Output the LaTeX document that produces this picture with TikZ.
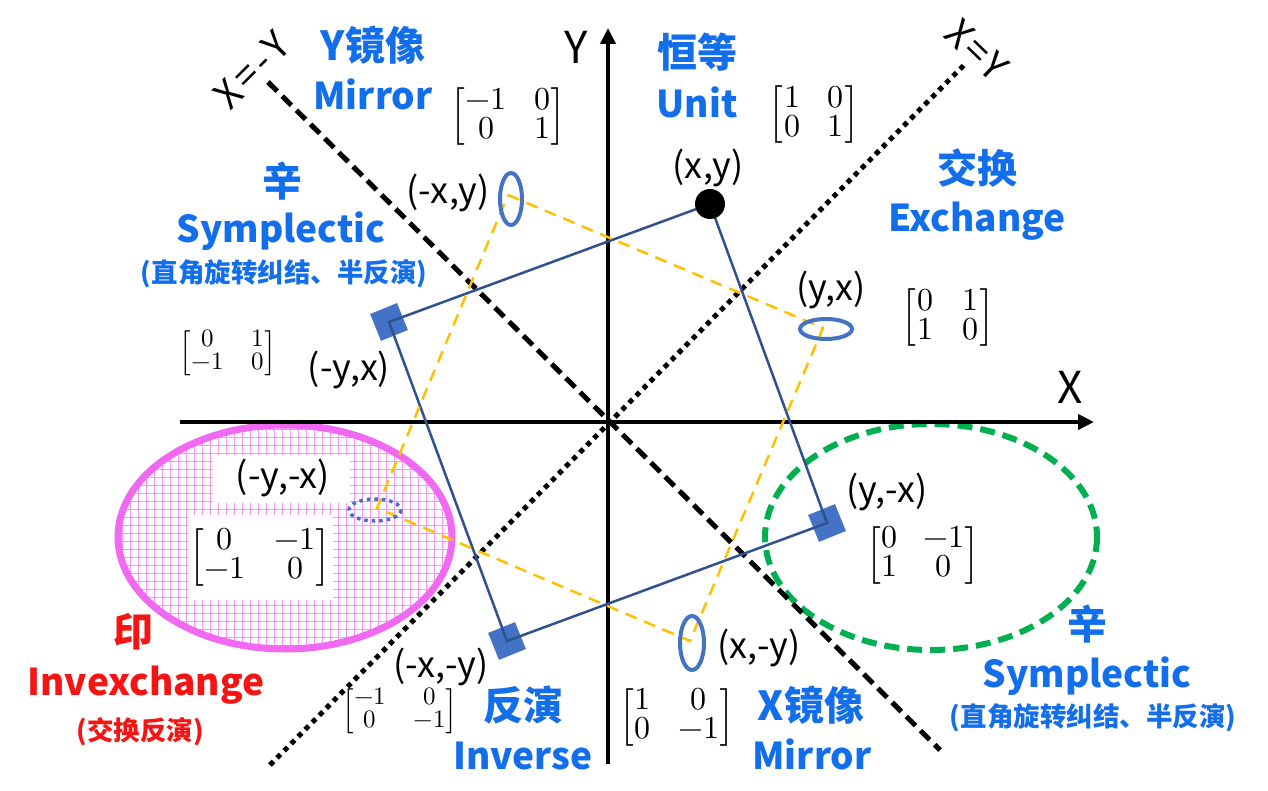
\documentclass[tikz,border=0pt]{standalone}
\usepackage{amsmath}
\usepackage{fontspec}
\usepackage{unicode-math}
\setmathfont{Latin Modern Math}
\newfontfamily\cjk{Noto Sans CJK SC}
\usetikzlibrary{arrows.meta}
\definecolor{lblue}{RGB}{18,110,235}
\definecolor{rectblue}{RGB}{47,82,143}
\definecolor{sqblue}{RGB}{68,114,196}
\definecolor{ygold}{RGB}{255,192,0}
\definecolor{gdash}{RGB}{0,176,80}
\definecolor{mag}{RGB}{240,105,240}
\definecolor{magl}{RGB}{245,150,245}
\definecolor{lred}{RGB}{245,20,20}
\newcommand\mymat[5]{{\setlength\arraycolsep{#1}\renewcommand\arraystretch{0.92}$\begin{bmatrix}#2&#3\\#4&#5\end{bmatrix}$}}
\begin{document}
\begin{tikzpicture}[x=1pt,y=-1pt,
  lab/.style={text=lblue,font=\cjk\bfseries\fontsize{37}{39}\selectfont,inner sep=0pt},
  labc/.style={text=lblue,font=\cjk\bfseries\fontsize{40}{42}\selectfont,inner sep=0pt},
  labsm/.style={text=lblue,font=\cjk\bfseries\fontsize{26.5}{28}\selectfont,inner sep=0pt},
  coord/.style={font=\cjk\fontsize{36}{38}\selectfont,inner sep=0pt},
  mat/.style={font=\fontsize{32}{27}\selectfont,inner sep=0pt},
  mats/.style={font=\fontsize{25}{22}\selectfont,inner sep=0pt},
  axisline/.style={line width=4pt,-{Triangle[length=16pt,width=15pt]}},
  diagdash/.style={line width=5pt,dash pattern=on 13pt off 7pt},
  diagdot/.style={line width=5pt,dash pattern=on 5pt off 5pt},
  rectline/.style={draw=rectblue,line width=2.5pt,line join=miter},
  ydash/.style={draw=ygold,line width=2.5pt,dash pattern=on 12pt off 8pt},
  sq/.style={fill=sqblue,minimum size=29pt,inner sep=0pt,rotate=22},
  ebl/.style={draw=sqblue,line width=4pt},
]
\useasboundingbox (0,0) rectangle (1268,791);
\fill[white] (0,0) rectangle (1268,791);

% magenta hatched ellipse
\begin{scope}
  \clip (285,537) ellipse [x radius=167, y radius=112];
  \foreach \i in {0,...,44} {
    \draw[magl,line width=0.9pt] (114+8*\i,420) -- (114+8*\i,660);
  }
  \foreach \j in {0,...,30} {
    \draw[magl,line width=0.9pt] (110,421+8*\j) -- (460,421+8*\j);
  }
\end{scope}
\node[fill=white,minimum width=137pt,minimum height=48pt,inner sep=0pt] (boxa) at (281,479) {};
\node[fill=white,minimum width=145pt,minimum height=85pt,inner sep=0pt] (boxb) at (260,557) {};
\draw[mag,line width=7pt] (285,537) ellipse [x radius=167, y radius=112];

% green dashed ellipse
\draw[gdash,line width=6pt,dash pattern=on 15pt off 8pt] (931,537) ellipse [x radius=166, y radius=113];

% axes
\coordinate (xs) at (180,422);
\coordinate (xe) at (1094,422);
\coordinate (ys) at (608,764);
\coordinate (ye) at (608,28);
\draw[axisline] (xs) -- (xe);
\draw[axisline] (ys) -- (ye);

% diagonals
\coordinate (d1a) at (268,82);
\coordinate (d1b) at (940,750);
\coordinate (d2a) at (270,765);
\coordinate (d2b) at (966,63);
\draw[diagdash] (d1a) -- (d1b);
\draw[diagdot] (d2a) -- (d2b);

% rotation rectangle
\coordinate (P1) at (710,204);
\coordinate (P2) at (827,523);
\coordinate (P3) at (507,641);
\coordinate (P4) at (389,322);
\node[sq] (s4) at (P4) {};
\node[sq] (s3) at (P3) {};
\node[sq] (s2) at (P2) {};
\draw[rectline] (P1) -- (P2) -- (P3) -- (P4) -- cycle;

% reflection rectangle
\coordinate (Y1) at (508,195);
\coordinate (Y2) at (823,328);
\coordinate (Y3) at (690,641);
\coordinate (Y4) at (377,508);
\draw[ydash] (Y1) -- (Y2) -- (Y3) -- (Y4) -- cycle;

% ellipses on points
\draw[ebl] (511,199) ellipse [x radius=11, y radius=26];
\draw[ebl] (826,329) ellipse [x radius=26, y radius=10];
\draw[ebl] (692,643) ellipse [x radius=12, y radius=27];
\draw[sqblue,line width=3.5pt,dash pattern=on 3.5pt off 4pt] (375,510) ellipse [x radius=26, y radius=11];

% black dot
\fill[black] (P1) circle [radius=15];

% axis labels
\node[font=\cjk\fontsize{44}{46}\selectfont,inner sep=0pt] (ylab) at (576,47) {Y};
\node[font=\cjk\fontsize{44}{46}\selectfont,inner sep=0pt] (xlab) at (1070,387) {X};
\node[font=\cjk\fontsize{38}{40}\selectfont,inner sep=0pt,rotate=45] (l1) at (252,70) {X\hspace{4pt}=\hspace{4pt}-\hspace{4pt}Y};
\node[font=\cjk\fontsize{38}{40}\selectfont,inner sep=0pt,rotate=-44] (l2) at (977,50) {X\hspace{3pt}=\hspace{3pt}Y};

% blue titles
\node[labc] (t1a) at (373,45) {Y镜像};
\node[lab,anchor=base] (t1b) at (373,110) {Mirror};
\node[labc] (t2a) at (697,52) {恒等};
\node[lab,anchor=base] (t2b) at (697,118) {Unit};
\node[labc] (t3a) at (977,168) {交换};
\node[lab,anchor=base] (t3b) at (977,232) {Exchange};
\node[labc] (t4a) at (282,181) {辛};
\node[lab,anchor=base] (t4b) at (281,243) {Symplectic};
\node[labsm] (t4c) at (284,274) {(直角旋转纠结、半反演)};
\node[labc] (t5a) at (523,705) {反演};
\node[lab,anchor=base] (t5b) at (523,769) {Inverse};
\node[labc] (t6a) at (811,705) {X镜像};
\node[lab,anchor=base] (t6b) at (812,769) {Mirror};
\node[labc] (t7a) at (1087,624) {辛};
\node[lab,anchor=base] (t7b) at (1087,687) {Symplectic};
\node[labsm] (t7c) at (1093,718) {(直角旋转纠结、半反演)};
\node[labc,text=lred] (t8a) at (133,632) {印};
\node[lab,text=lred,anchor=base] (t8b) at (146,695) {Invexchange};
\node[labsm,text=lred] (t8c) at (140,732) {(交换反演)};

% coordinate labels
\node[coord] (cxy) at (708,168) {(x,y)};
\node[coord] (cmxy) at (448,193) {(-x,y)};
\node[coord] (cmyx) at (349,370) {(-y,x)};
\node[coord] (cyx) at (831,290) {(y,x)};
\node[coord] (cmymx) at (283,478) {(-y,-x)};
\node[coord] (cmxmy) at (441,667) {(-x,-y)};
\node[coord] (cxmy) at (759,648) {(x,-y)};
\node[coord] (cymx) at (887,492) {(y,-x)};

% matrices
\node[mat] (m1) at (508,117) {\mymat{14pt}{-1}{0}{0}{1}};
\node[mat] (m2) at (814,115) {\mymat{14pt}{1}{0}{0}{1}};
\node[mat] (m3) at (948,318) {\mymat{15pt}{0}{1}{1}{0}};
\node[mats] (m4) at (228,353) {\mymat{14pt}{0}{1}{-1}{0}};
\node[mat] (m5) at (260,557) {\mymat{15pt}{0}{-1}{-1}{0}};
\node[mats] (m6) at (400,711) {\mymat{14pt}{-1}{0}{0}{-1}};
\node[mat] (m7) at (677,717) {\mymat{14pt}{1}{0}{0}{-1}};
\node[mat] (m8) at (923,555) {\mymat{13pt}{0}{-1}{1}{0}};
\end{tikzpicture}
\end{document}
